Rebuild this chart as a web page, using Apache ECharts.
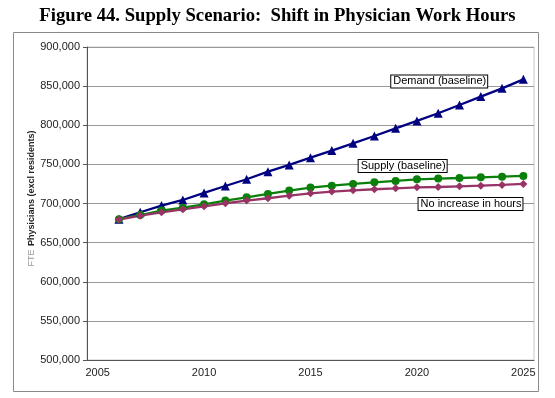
<!DOCTYPE html>
<html>
<head>
<meta charset="utf-8">
<script src="https://cdn.jsdelivr.net/npm/echarts@6/dist/echarts.min.js"></script>
<style>
html,body{margin:0;padding:0;background:#fff;}
#chart{width:555px;height:398px;}
</style>
</head>
<body>
<div id="chart"></div>
<script>
const years = ['2005','2006','2007','2008','2009','2010','2011','2012','2013','2014','2015','2016','2017','2018','2019','2020','2021','2022','2023','2024','2025'];
const demand = [null,680000,688800,697300,704500,713500,722400,731000,740700,749300,758600,767600,776900,786300,796100,805500,815300,825900,836600,847200,858700];
const supply = [null,680000,685300,690900,694700,699000,703700,707900,712200,716500,720300,722800,725000,727100,728800,730900,731800,732600,733500,734300,735200];
const noIncrease = [null,679500,684500,688800,692600,696400,700300,703700,706700,710000,713000,715200,716900,718200,719400,720700,721100,722000,722800,723700,725000];
const yTicks = [500000,550000,600000,650000,700000,750000,800000,850000,900000];
const seriesNames = ['Demand (baseline)','Supply (baseline)','No increase in hours'];

const fmt = v => v.toString().replace(/\B(?=(\d{3})+(?!\d))/g, ',');
const boxLabel = {
  show: true, position: 'inside', color: '#000', fontSize: 11,
  fontFamily: 'Liberation Sans, Arial, sans-serif',
  backgroundColor: '#fff', borderColor: '#000', borderWidth: 1, padding: [1, 1, 0, 2]
};
function note(text, cat, val, dx) {
  return { coord: [cat, val], value: text, symbol: 'circle', symbolSize: 1,
    itemStyle: { color: 'rgba(0,0,0,0)' },
    label: Object.assign({}, boxLabel, { formatter: text, offset: [dx, 0] }) };
}

const chart = echarts.init(document.getElementById('chart'), null, { renderer: 'canvas' });
chart.setOption({
  animation: false,
  backgroundColor: '#fff',
  title: {
    text: 'Figure 44. Supply Scenario:  Shift in Physician Work Hours',
    left: 'center', top: 2,
    textStyle: { fontFamily: 'Liberation Serif, Times New Roman, serif', fontWeight: 'bold', fontSize: 18.7, color: '#000' }
  },
  graphic: [{
    type: 'rect', left: 13, top: 32, z: -1,
    shape: { width: 525, height: 359 },
    style: { fill: 'rgba(0,0,0,0)', stroke: '#8a8a8a', lineWidth: 1 }
  }],
  grid: { left: 87, right: 21, top: 47, bottom: 38, show: true, borderColor: '#c8c8c8', borderWidth: 1, backgroundColor: 'rgba(0,0,0,0)' },
  xAxis: {
    type: 'category', data: years, boundaryGap: true,
    axisLine: { lineStyle: { color: '#555', width: 1 } },
    axisTick: { interval: 0, length: 4, lineStyle: { color: '#555' } },
    axisLabel: { interval: 4, color: '#222', fontSize: 11, margin: 7, fontFamily: 'Liberation Sans, Arial, sans-serif' },
    splitLine: { show: false }
  },
  yAxis: {
    type: 'value', min: yTicks[0], max: yTicks[yTicks.length - 1], interval: 50000,
    name: '{g|FTE} {b|Physicians (excl residents)}',
    nameLocation: 'middle', nameRotate: 90, nameGap: 49, nameMoveOverlap: false,
    nameTextStyle: {
      padding: [0, 0, 0, 10],
      rich: {
        g: { color: '#999', fontSize: 9, fontFamily: 'Liberation Sans, Arial, sans-serif' },
        b: { color: '#222', fontSize: 9, fontWeight: 'bold', fontFamily: 'Liberation Sans, Arial, sans-serif' }
      }
    },
    axisLine: { show: true, lineStyle: { color: '#555', width: 1 } },
    axisTick: { show: true, length: 4, lineStyle: { color: '#555' } },
    axisLabel: { formatter: v => fmt(v), color: '#222', fontSize: 11, margin: 7, fontFamily: 'Liberation Sans, Arial, sans-serif' },
    splitLine: { lineStyle: { color: '#999', width: 1 } }
  },
  series: [
    {
      name: seriesNames[0], type: 'line', data: demand, connectNulls: false,
      symbol: 'triangle', symbolSize: 9, showSymbol: true,
      lineStyle: { color: '#000080', width: 2.3 }, itemStyle: { color: '#000080' },
      markPoint: { data: [note(seriesNames[0], years[16], 856000, 1)] }
    },
    {
      name: seriesNames[1], type: 'line', data: supply,
      symbol: 'circle', symbolSize: 8,
      lineStyle: { color: '#0a800a', width: 2.3 }, itemStyle: { color: '#0a800a' },
      markPoint: { data: [note(seriesNames[1], years[14], 747900, 7)] }
    },
    {
      name: seriesNames[2], type: 'line', data: noIncrease,
      symbol: 'diamond', symbolSize: 8,
      lineStyle: { color: '#993366', width: 2.3 }, itemStyle: { color: '#993366' },
      markPoint: { data: [note(seriesNames[2], years[17], 699400, 11)] }
    }
  ]
});
</script>
</body>
</html>
